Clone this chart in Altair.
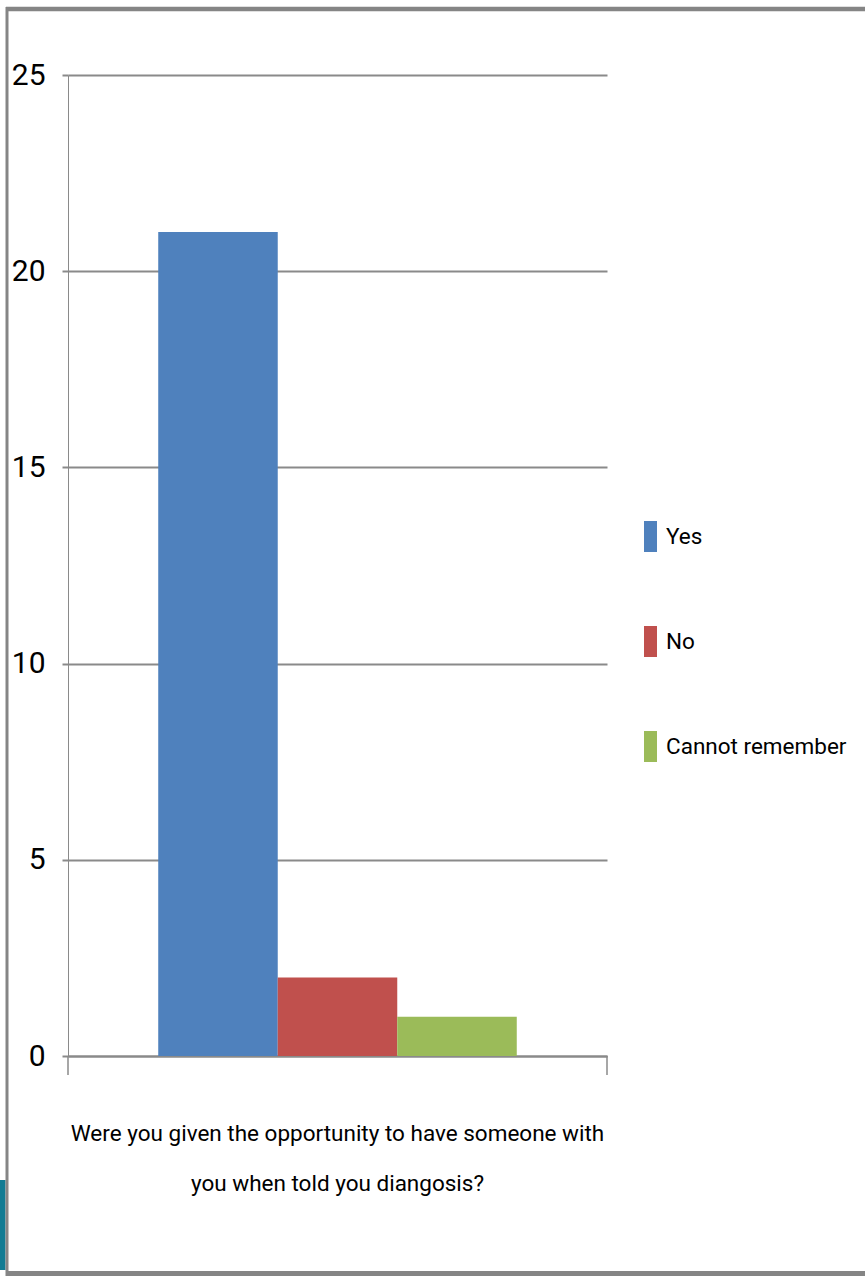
import altair as alt
import pandas as pd

# Survey answers to one question
question = "Were you given the opportunity to have someone with|you when told you diangosis?"
responses = ["Yes", "No", "Cannot remember"]
counts = [21, 2, 1]
colors = ["#4F81BD", "#C0504D", "#9BBB59"]
y_ticks = [0, 5, 10, 15, 20, 25]

df = pd.DataFrame({
    "question": [question] * len(responses),
    "response": responses,
    "count": counts,
})

W, H = 539, 981
PAD_L, PAD_T, PAD_R, PAD_B = 68, 75, 258, 220
FONT = "Roboto"
GRID = "#8a8a8a"
FRAME = "#858585"

bars = alt.Chart(df).mark_bar(strokeWidth=0).encode(
    x=alt.X(
        "question:N",
        scale=alt.Scale(paddingInner=0, paddingOuter=0),
        axis=alt.Axis(
            title=None,
            labelExpr="split(datum.label, '|')",
            labelAngle=0,
            labelFont=FONT,
            labelFontSize=22.5,
            labelLineHeight=50,
            labelColor="#000000",
            labelPadding=66,
            labelLimit=0,
            ticks=False,
            tickSize=0,
            domainColor=GRID,
            domainWidth=2,
        ),
    ),
    xOffset=alt.XOffset(
        "response:N",
        sort=responses,
        scale=alt.Scale(domain=responses, paddingInner=0, paddingOuter=0.755),
    ),
    y=alt.Y(
        "count:Q",
        scale=alt.Scale(domain=[0, 25]),
        axis=alt.Axis(
            title=None,
            values=y_ticks,
            grid=True,
            gridColor=GRID,
            gridWidth=2,
            tickColor=GRID,
            tickSize=6,
            tickWidth=2,
            domainColor=GRID,
            domainWidth=1,
            labelFont=FONT,
            labelFontSize=30,
            labelColor="#000000",
            labelPadding=17,
        ),
    ),
    color=alt.Color(
        "response:N",
        sort=responses,
        scale=alt.Scale(domain=responses, range=colors),
        legend=alt.Legend(
            title=None,
            orient="none",
            legendX=567,
            legendY=446,
            padding=0,
            rowPadding=74,
            symbolType="M-0.42,-1L0.42,-1L0.42,1L-0.42,1Z",
            symbolSize=961,
            symbolStrokeWidth=0,
            symbolOpacity=1,
            labelFont=FONT,
            labelFontSize=22.5,
            labelColor="#000000",
            labelOffset=0,
            labelLimit=0,
        ),
    ),
)

one = alt.Data(values=[{}])

# Category-axis tick marks at both ends of the plot
edge_ticks = alt.Chart(one).mark_rule(color=GRID, strokeWidth=1.5).encode(
    x=alt.value(0), y=alt.value(H), y2=alt.value(H + 19)
) + alt.Chart(one).mark_rule(color=GRID, strokeWidth=1.5).encode(
    x=alt.value(W), y=alt.value(H), y2=alt.value(H + 19)
)

# Outer chart frame and the slide edge peeking in at the lower left
frame_top = alt.Chart(one).mark_rule(color=FRAME, strokeWidth=4.5).encode(
    x=alt.value(-62), x2=alt.value(W + PAD_R), y=alt.value(9 - PAD_T)
)
frame_left = alt.Chart(one).mark_rule(color=FRAME, strokeWidth=3).encode(
    x=alt.value(7 - PAD_L), y=alt.value(7 - PAD_T), y2=alt.value(H + PAD_B)
)
frame_bottom = alt.Chart(one).mark_rule(color=FRAME, strokeWidth=5).encode(
    x=alt.value(-62), x2=alt.value(W + PAD_R), y=alt.value(1273.5 - PAD_T)
)
slide_edge = alt.Chart(one).mark_rect(color="#117b93").encode(
    x=alt.value(-PAD_L), x2=alt.value(5.5 - PAD_L),
    y=alt.value(1180 - PAD_T), y2=alt.value(1270 - PAD_T),
)

chart = alt.layer(
    bars, edge_ticks, slide_edge, frame_top, frame_left, frame_bottom
).properties(
    width=W,
    height=H,
    padding={"left": PAD_L, "top": PAD_T, "right": PAD_R, "bottom": PAD_B},
    autosize=alt.AutoSizeParams(type="none"),
    background="#ffffff",
).configure_view(stroke=None)

chart.save("out.html", embed_options={"renderer": "svg", "actions": False})
